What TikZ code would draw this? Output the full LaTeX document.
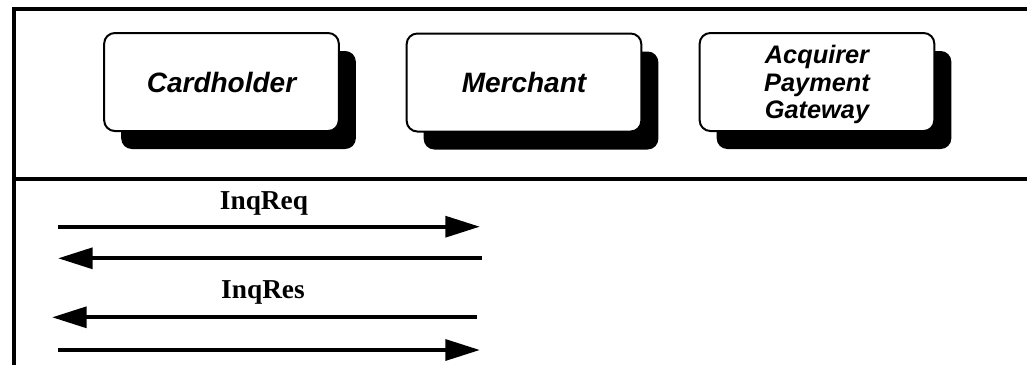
\documentclass[tikz,border=0pt]{standalone}
\usepackage{fontspec}
\setmainfont{Liberation Serif}
\setsansfont{Liberation Sans}
\usetikzlibrary{arrows.meta,shadows}

\begin{document}
\begin{tikzpicture}[x=0.75pt,y=-0.75pt,
  party/.style={draw,fill=white,line width=1.5pt,rounded corners=8pt,
    minimum width=176pt,minimum height=73.5pt,align=center,inner sep=0pt,
    font=\sffamily\bfseries\itshape\fontsize{21}{24}\selectfont,
    drop shadow={fill=black,opacity=1,shadow xshift=12.75pt,shadow yshift=-13.5pt}},
  msg/.style={font=\bfseries\fontsize{20.5}{24}\selectfont,anchor=base,inner sep=0pt},
  flow/.style={line width=3.2pt,-{Triangle[length=26pt,width=15.5pt]}}]
\useasboundingbox (0,0) rectangle (1027,365);

\draw[line width=3pt] (1027,9) -| (13.5,365);
\draw[line width=3pt] (13.5,179) -- (1027,179);

\node[party] (card) at (221.5,82) {Cardholder};
\node[party] (merch) at (524,82.5) {Merchant};
\node[party,text depth=0pt,font=\sffamily\bfseries\itshape\fontsize{19}{20.5}\selectfont] (gate) at (817,82) {Acquirer\\Payment\\Gateway};

\node[msg] (inqreq) at (264,209) {InqReq};
\node[msg] (inqres) at (263,298) {InqRes};

\coordinate (req1w) at (58,226.7);  \coordinate (req1e) at (480,226.7);
\coordinate (req2w) at (58,258.3);  \coordinate (req2e) at (482,258.3);
\coordinate (res1w) at (52,317.3);  \coordinate (res1e) at (477,317.3);
\coordinate (res2w) at (58,350);    \coordinate (res2e) at (480,350);

\draw[flow] (req1w) -- (req1e);
\draw[flow] (req2e) -- (req2w);
\draw[flow] (res1e) -- (res1w);
\draw[flow] (res2w) -- (res2e);
\end{tikzpicture}
\end{document}
